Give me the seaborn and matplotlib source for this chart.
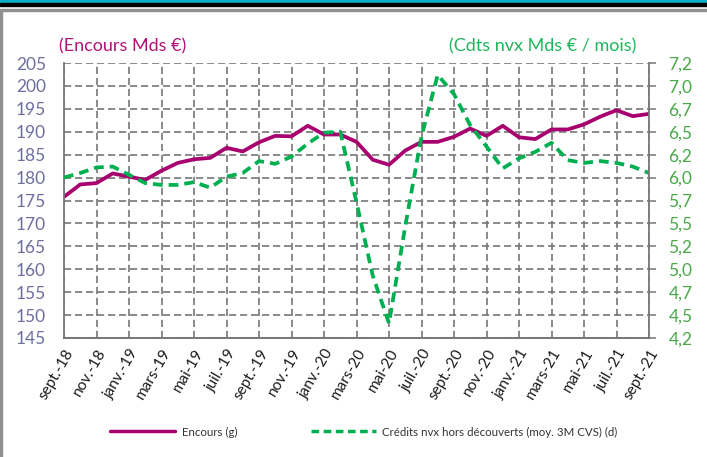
import numpy as np
import pandas as pd
import matplotlib
matplotlib.use('Agg')
import matplotlib.pyplot as plt
import seaborn as sns
from matplotlib.lines import Line2D
from matplotlib.patches import Rectangle

# monthly data, sept-18 .. sept-21
encours = [175.8, 178.5, 178.8, 180.9, 180.2, 179.5, 181.5, 183.2, 184.0, 184.3,
           186.5, 185.7, 187.7, 189.1, 189.0, 191.3, 189.4, 189.4, 187.8, 183.9,
           182.8, 185.9, 187.8, 187.8, 188.9, 190.7, 189.1, 191.3, 188.8, 188.4,
           190.5, 190.5, 191.6, 193.3, 194.7, 193.4, 193.9]
credits = [5.95, 6.00, 6.06, 6.07, 5.98, 5.89, 5.87, 5.87, 5.90, 5.84,
           5.96, 6.00, 6.13, 6.10, 6.18, 6.32, 6.44, 6.45, 5.68, 4.88,
           4.36, 5.42, 6.40, 7.07, 6.86, 6.52, 6.29, 6.05, 6.16, 6.23,
           6.33, 6.14, 6.11, 6.13, 6.11, 6.07, 6.00]
month_labels = ['sept.-18', 'nov.-18', 'janv.-19', 'mars-19', 'mai-19', 'juil.-19',
                'sept.-19', 'nov.-19', 'janv.-20', 'mars-20', 'mai-20', 'juil.-20',
                'sept.-20', 'nov.-20', 'janv.-21', 'mars-21', 'mai-21', 'juil.-21',
                'sept.-21']
left_ticks = [145, 150, 155, 160, 165, 170, 175, 180, 185, 190, 195, 200, 205]
right_labels = ['4,2', '4,5', '4,7', '5,0', '5,2', '5,5', '5,7', '6,0', '6,2',
                '6,5', '6,7', '7,0', '7,2']

df = pd.DataFrame({'mois': np.arange(len(encours)), 'encours': encours, 'credits': credits})

sns.set_style('white')
plt.rcParams['font.family'] = ['Lato', 'DejaVu Sans']

PURPLE = '#A8006E'
GREEN = '#00B050'
GRID = '#777777'

fig = plt.figure(figsize=(7.07, 4.57), dpi=100)
ax = fig.add_axes([64/707, 1-338/457, 585/707, 275/457])
ax2 = ax.twinx()

sns.lineplot(data=df, x='mois', y='encours', ax=ax, color=PURPLE, linewidth=2.7)
sns.lineplot(data=df, x='mois', y='credits', ax=ax2, color=GREEN, linewidth=2.7,
             linestyle=(0, (2.6, 1.6)))

ax.set_xlim(0, 36)
ax.set_ylim(145, 205)
ax2.set_ylim(4.2, 7.2)
ax.set_xticks(np.arange(0, 37, 2))
ax.set_xticklabels(month_labels, rotation=60, ha='right', rotation_mode='anchor',
                   fontsize=11, color='#1a1a1a')
ax.set_yticks(left_ticks)
ax.set_yticklabels([str(v) for v in left_ticks], fontsize=12.5, color='#6E6E9E')
ax2.set_yticks(np.linspace(4.2, 7.2, 13))
ax2.set_yticklabels(right_labels, fontsize=12.5, color='#4AA84A')
ax.set_xlabel('')
ax.set_ylabel('')
ax2.set_ylabel('')

ax.grid(True, color=GRID, linestyle=(0, (4.3, 2.3)), linewidth=1.2)
ax.tick_params(axis='x', length=0, pad=6)
ax.tick_params(axis='y', length=0, pad=13)
ax2.tick_params(axis='y', length=5, width=1.1, color=GRID, pad=9, direction='out')

for a in (ax, ax2):
    a.spines['top'].set_visible(False)
    for side in ('left', 'right', 'bottom'):
        a.spines[side].set_color(GRID)
        a.spines[side].set_linewidth(1.3)
ax.spines['right'].set_visible(False)
ax2.spines['left'].set_visible(False)

fig.text(59/707, 1-46/457, '(Encours Mds €)', color='#B0137A', fontsize=13, va='center')
fig.text(449/707, 1-46/457, '(Cdts nvx Mds € / mois)', color='#1DB65A', fontsize=13,
         va='center')

handles = [Line2D([], [], color=PURPLE, linewidth=2.5),
           Line2D([], [], color=GREEN, linewidth=2.5, linestyle=(0, (2.2, 1.3)))]
fig.legend(handles, ['Encours (g)', 'Crédits nvx hors découverts (moy. 3M CVS) (d)'],
           loc='center', bbox_to_anchor=(364/707, 1-432/457), ncol=2, frameon=False,
           fontsize=8.3, handlelength=5.6, handletextpad=0.6, columnspacing=6.4,
           labelcolor='#333333')

# frame bands at the top, border on the left
fig.patches.append(Rectangle((0, 1-3/457), 1, 3/457, transform=fig.transFigure,
                             color='#0AAEC9', zorder=0))
fig.patches.append(Rectangle((0, 1-6/457), 1, 3/457, transform=fig.transFigure,
                             color='#000000', zorder=0))
fig.patches.append(Rectangle((0, 1-10.5/457), 1, 1.8/457, transform=fig.transFigure,
                             color='#909090', zorder=0))
fig.patches.append(Rectangle((0, 0), 2/707, 1-10.5/457, transform=fig.transFigure,
                             color='#909090', zorder=0))

plt.savefig('out.png', dpi=100)
